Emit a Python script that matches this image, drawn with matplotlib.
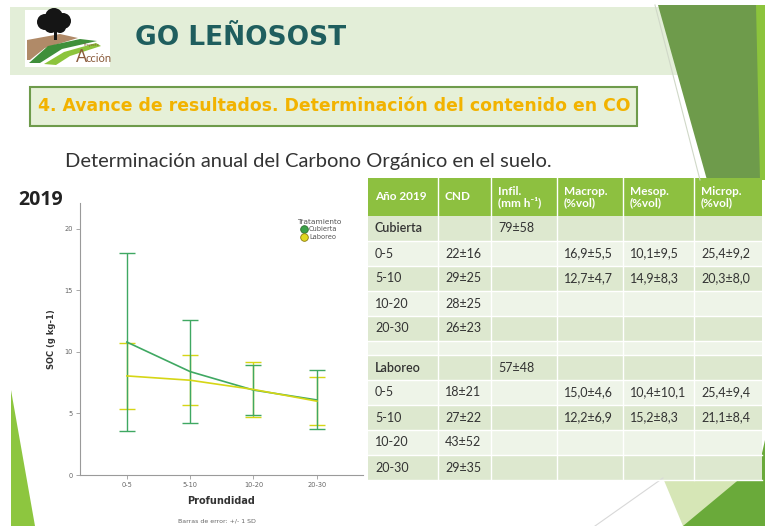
import matplotlib
matplotlib.use("Agg")
import matplotlib.pyplot as plt
from matplotlib.patches import Rectangle, Polygon, Circle
from matplotlib.lines import Line2D

# ---------------- data ----------------
depths = ["0-5", "5-10", "10-20", "20-30"]
soc_cubierta = [10.8, 8.4, 6.9, 6.1]
sd_cubierta = [7.2, 4.2, 2.05, 2.4]
soc_laboreo = [8.05, 7.7, 6.95, 6.0]
sd_laboreo = [2.7, 2.05, 2.2, 1.95]
y_ticks = [0, 5, 10, 15, 20]

table_header = ["Año 2019", "CND", "Infil.\n(mm h⁻¹)", "Macrop.\n(%vol)", "Mesop.\n(%vol)", "Microp.\n(%vol)"]
rows_cubierta = [
    ["Cubierta", "", "79±58", "", "", ""],
    ["0-5", "22±16", "", "16,9±5,5", "10,1±9,5", "25,4±9,2"],
    ["5-10", "29±25", "", "12,7±4,7", "14,9±8,3", "20,3±8,0"],
    ["10-20", "28±25", "", "", "", ""],
    ["20-30", "26±23", "", "", "", ""],
]
rows_laboreo = [
    ["Laboreo", "", "57±48", "", "", ""],
    ["0-5", "18±21", "", "15,0±4,6", "10,4±10,1", "25,4±9,4"],
    ["5-10", "27±22", "", "12,2±6,9", "15,2±8,3", "21,1±8,4"],
    ["10-20", "43±52", "", "", "", ""],
    ["20-30", "29±35", "", "", "", ""],
]

W, H = 765, 526
fig = plt.figure(figsize=(W / 100, H / 100), dpi=100)
fig.patch.set_facecolor("white")

# ---------------- slide background ----------------
bg = fig.add_axes([0, 0, 1, 1], zorder=0)
bg.set_xlim(0, W)
bg.set_ylim(H, 0)
bg.axis("off")

# header band
bg.add_patch(Polygon([(10, 7), (660, 7), (682, 75), (10, 75)], closed=True,
                     facecolor="#e3eed8", edgecolor="none"))
# right dark green shape
bg.add_patch(Polygon([(658, 5), (765, 5), (765, 180), (707, 180)], closed=True,
                     facecolor="#6e9b4b", edgecolor="none"))
bg.add_patch(Polygon([(756, 5), (765, 5), (765, 180), (760, 180)], closed=True,
                     facecolor="#8cc43c", edgecolor="none"))
bg.plot([655, 700], [5, 180], color="#d0d8c8", lw=0.8)
# bottom-right shapes
bg.add_patch(Polygon([(663, 478), (765, 478), (765, 526), (683, 526)], closed=True,
                     facecolor="#d6e6b6", edgecolor="none"))
bg.add_patch(Polygon([(683, 526), (765, 526), (765, 440), (760, 462)], closed=True,
                     facecolor="#6aaa3a", edgecolor="none"))
bg.plot([595, 663], [526, 478], color="#d8d8d8", lw=0.8)
# left bottom triangle
bg.add_patch(Polygon([(11, 390), (11, 526), (35, 526)], closed=True,
                     facecolor="#8dc63f", edgecolor="none"))

# logo
bg.add_patch(Rectangle((25, 10), 85, 57, facecolor="white", edgecolor="none"))
bg.add_patch(Polygon([(27, 40), (60, 34), (78, 38), (45, 48), (30, 60), (27, 60)],
                     closed=True, facecolor="#b08a68", edgecolor="none"))
bg.add_patch(Polygon([(29, 63), (48, 46), (80, 39), (97, 41), (62, 49), (40, 63)],
                     closed=True, facecolor="#3f8f3a", edgecolor="none"))
bg.add_patch(Polygon([(44, 64), (64, 52), (96, 43), (101, 46), (70, 56), (56, 65)],
                     closed=True, facecolor="#8cc43c", edgecolor="none"))
for cx, cy, r in [(45, 22, 8), (54, 17, 9), (63, 21, 8), (51, 26, 7), (60, 27, 6)]:
    bg.add_patch(Circle((cx, cy), r, facecolor="#151515", edgecolor="none"))
bg.add_patch(Rectangle((54, 28), 3, 12, facecolor="#151515", edgecolor="none"))
bg.text(84, 45, "Proyecto", fontsize=2.5, color="#7a4a2a", ha="left", va="center")
bg.text(76, 57, "A", fontsize=12, color="#8a5a3a", ha="left", va="center", family="Lato")
bg.text(86, 59, "cción", fontsize=8, color="#8a5a3a", ha="left", va="center", family="Lato")

# titles
bg.text(135, 38, "GO LEÑOSOST", fontsize=19, color="#1f5e5e", fontweight="bold",
        ha="left", va="center", family="DejaVu Sans")
bg.add_patch(Rectangle((30, 87), 607, 39, facecolor="#e6f0d8", edgecolor="#6e9b4b", lw=1.5))
bg.text(38, 106, "4. Avance de resultados. Determinación del contenido en CO",
        fontsize=12.4, color="#f2b300", fontweight="bold", ha="left", va="center",
        family="DejaVu Sans")
bg.text(65, 161, "Determinación anual del Carbono Orgánico en el suelo.",
        fontsize=14.5, color="#333333", ha="left", va="center", family="Lato")
bg.text(18, 200, "2019", fontsize=14, color="#222222", fontweight="bold",
        ha="left", va="center", family="Open Sans")

# ---------------- table ----------------
col_x = [368, 438, 491, 557, 623, 694, 762]
head_top, head_bot = 178, 216
row_h = 25
blank_h = 14
dark_row, light_row = "#dde8cf", "#eef4e8"

bg.add_patch(Rectangle((col_x[0], head_top), col_x[-1] - col_x[0], head_bot - head_top,
                       facecolor="#8dc040", edgecolor="none"))
for j, lab in enumerate(table_header):
    bg.text(col_x[j] + 7, (head_top + head_bot) / 2, lab, fontsize=8.5, color="white",
            fontweight="bold", ha="left", va="center", linespacing=1.0,
            family=["Lato", "DejaVu Sans"])

all_rows = rows_cubierta + [None] + rows_laboreo
y = head_bot
for i, row in enumerate(all_rows):
    h = blank_h if row is None else row_h
    color = dark_row if i % 2 == 0 else light_row
    bg.add_patch(Rectangle((col_x[0], y), col_x[-1] - col_x[0], h,
                           facecolor=color, edgecolor="none"))
    if row is not None:
        for j, val in enumerate(row):
            if val:
                weight = "semibold" if val in ("Cubierta", "Laboreo") else "normal"
                bg.text(col_x[j] + 7, y + h / 2, val, fontsize=9, color="#333333",
                        ha="left", va="center", family="Lato", fontweight=weight)
    y += h
    bg.plot([col_x[0], col_x[-1]], [y, y], color="white", lw=1)
for xc in col_x[1:-1]:
    bg.plot([xc, xc], [head_top, y], color="white", lw=1)

# ---------------- chart ----------------
ax_l, ax_r, ax_t, ax_b = 80, 363, 203, 475
ax = fig.add_axes([ax_l / W, 1 - ax_b / H, (ax_r - ax_l) / W, (ax_b - ax_t) / H], zorder=2)
ax.set_facecolor("none")
xs = list(range(len(depths)))
c_green, c_yellow = "#3fa862", "#d6d615"

ax.errorbar(xs, soc_laboreo, yerr=sd_laboreo, fmt="none", ecolor=c_yellow,
            elinewidth=1.0, capsize=6, capthick=1.0)
ax.errorbar(xs, soc_cubierta, yerr=sd_cubierta, fmt="none", ecolor=c_green,
            elinewidth=1.0, capsize=6, capthick=1.0)
ax.plot(xs, soc_cubierta, color=c_green, lw=1.2)
ax.plot(xs, soc_laboreo, color=c_yellow, lw=1.2)

ax.set_xlim(-0.74, 3.73)
ax.set_ylim(0, 22.1)
ax.set_xticks(xs)
ax.set_xticklabels(depths)
ax.set_yticks(y_ticks)
for s in ["top", "right"]:
    ax.spines[s].set_visible(False)
for s in ["left", "bottom"]:
    ax.spines[s].set_color("#9a9a9a")
    ax.spines[s].set_linewidth(0.8)
ax.tick_params(axis="both", length=3, width=0.6, color="#9a9a9a",
               labelsize=4.8, labelcolor="#666666", pad=2)
ax.set_xlabel("Profundidad", fontsize=7, fontweight="bold", color="#333333", labelpad=6)
ax.set_ylabel("SOC (g kg-1)", fontsize=6, fontweight="bold", color="#333333", labelpad=6)

handles = [Line2D([], [], marker="o", ls="none", markersize=5.5,
                  markerfacecolor="#3aa048", markeredgecolor="#2f6f2f", markeredgewidth=0.6),
           Line2D([], [], marker="o", ls="none", markersize=5.5,
                  markerfacecolor="#e0d820", markeredgecolor="#8a7a10", markeredgewidth=0.6)]
leg = ax.legend(handles, ["Cubierta", "Laboreo"], title="Tratamiento", loc="upper right",
                bbox_to_anchor=(0.94, 0.96), frameon=False, fontsize=4.8,
                title_fontsize=5.3, handlelength=0.8, handletextpad=0.4, labelspacing=0.25,
                borderpad=0.2)
for t in leg.get_texts():
    t.set_color("#555555")
leg.get_title().set_color("#555555")

bg.text(217, 521, "Barras de error: +/- 1 SD", fontsize=4.5, color="#666666",
        ha="center", va="center")

fig.savefig("out.png", dpi=100, facecolor="white")
